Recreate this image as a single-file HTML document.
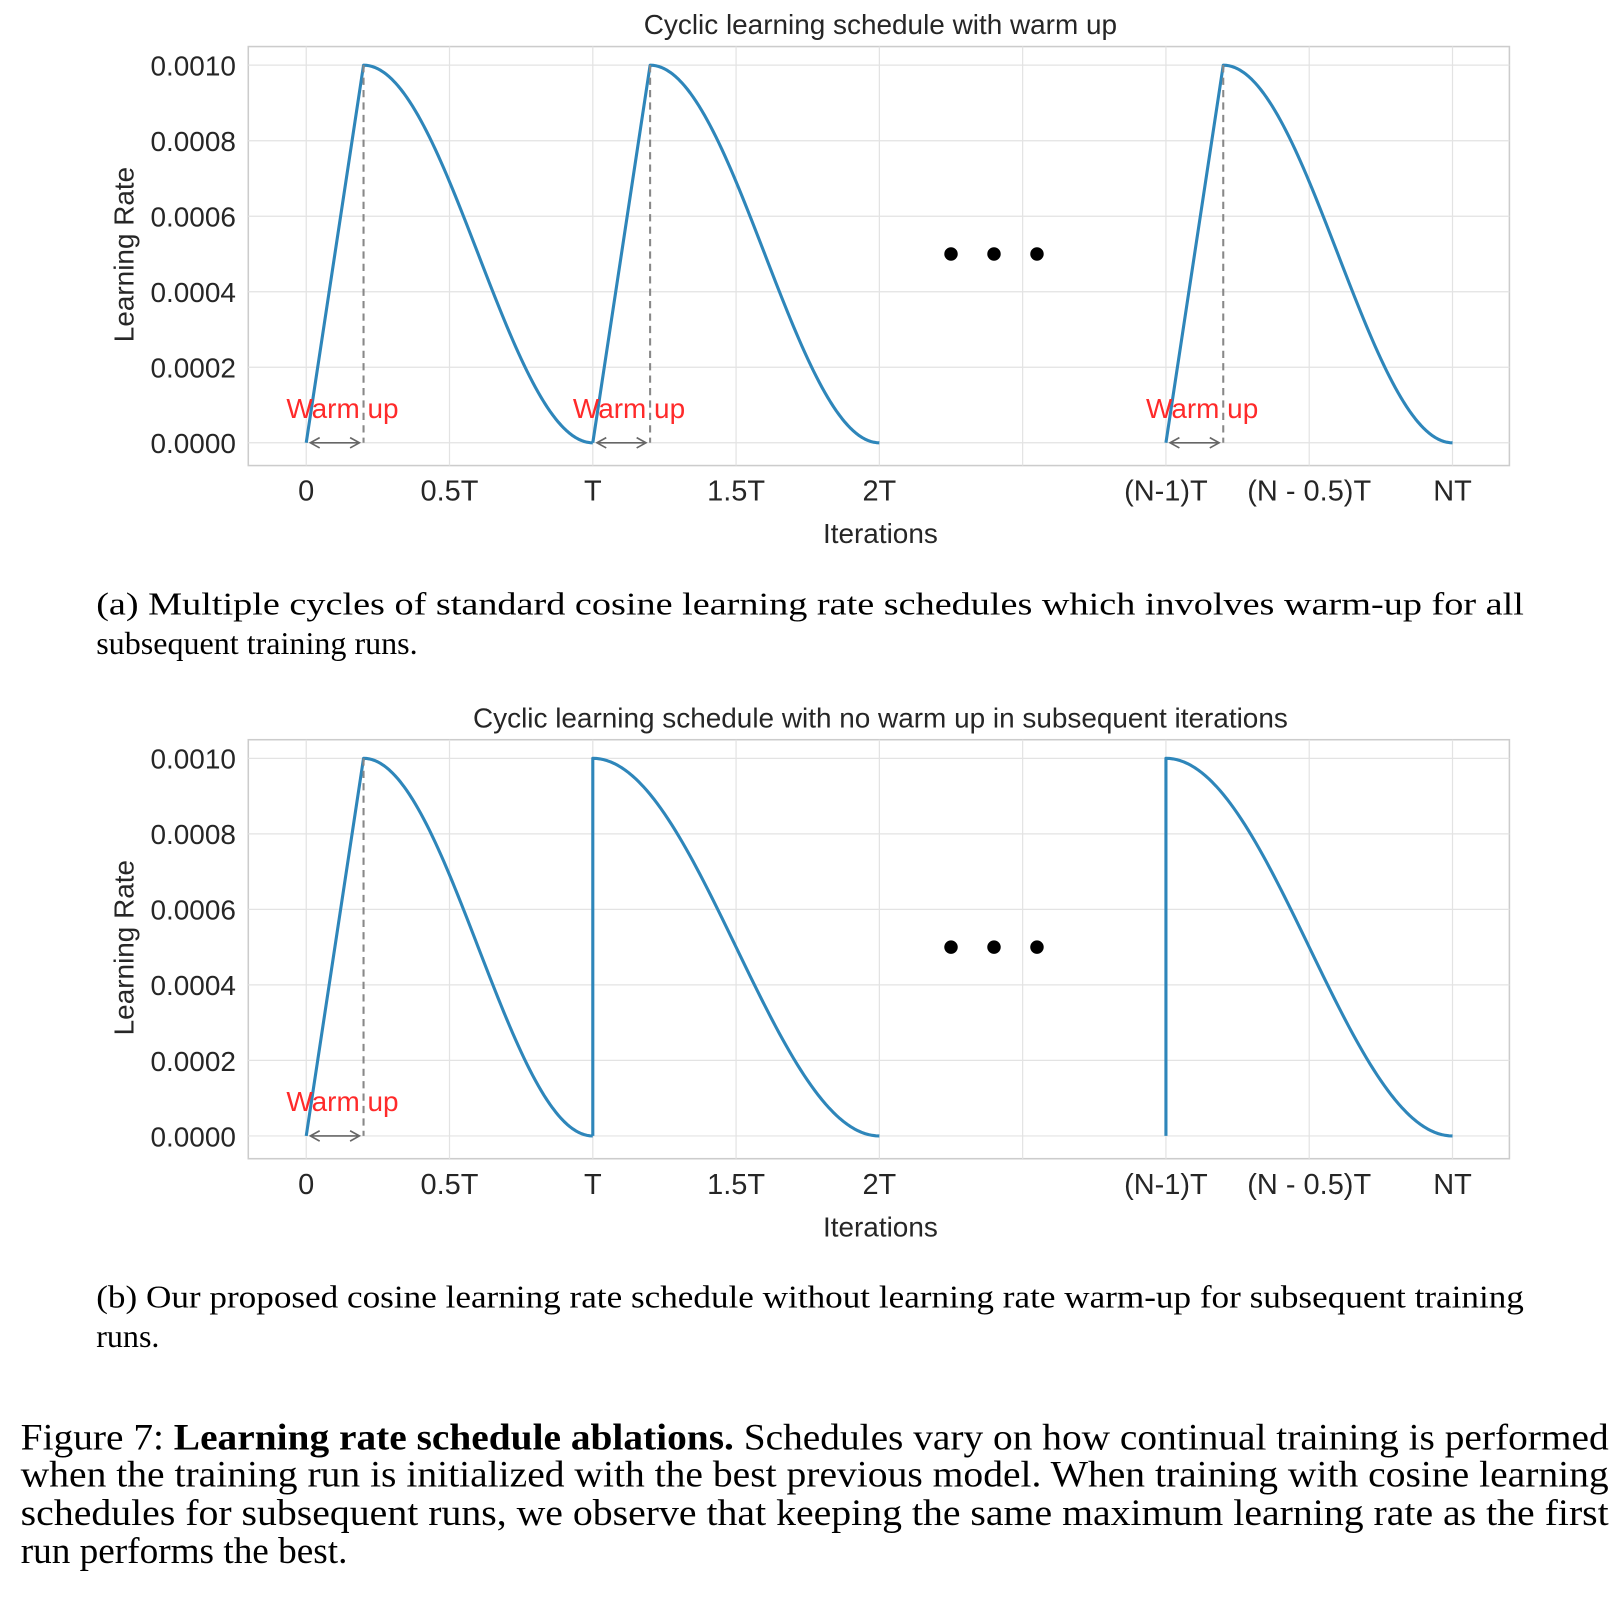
<!DOCTYPE html>
<html><head><meta charset="utf-8"><style>
html,body{margin:0;padding:0;background:#fff}
svg{display:block}
.tick{font-family:"Liberation Sans",sans-serif;fill:#262626}
.cap{font-family:"Liberation Serif",serif;fill:#000}
</style></head><body>
<svg id="fig" width="1617" height="1617" viewBox="0 0 1563 1563" xmlns="http://www.w3.org/2000/svg">
<text class="cap" x="93" y="594" font-size="31" textLength="1380" lengthAdjust="spacingAndGlyphs">(a) Multiple cycles of standard cosine learning rate schedules which involves warm-up for all</text>
<text class="cap" x="93" y="632" font-size="31">subsequent training runs.</text>
<text class="cap" x="93" y="1264" font-size="31" textLength="1380" lengthAdjust="spacingAndGlyphs">(b) Our proposed cosine learning rate schedule without learning rate warm-up for subsequent training</text>
<text class="cap" x="93" y="1302" font-size="31">runs.</text>
<g>
<text class="cap" x="20" y="1401" font-size="36" textLength="1535" lengthAdjust="spacingAndGlyphs">Figure 7: <tspan font-weight="bold">Learning rate schedule ablations.</tspan> Schedules vary on how continual training is performed</text>
<text class="cap" x="20" y="1437" font-size="36" textLength="1535" lengthAdjust="spacingAndGlyphs">when the training run is initialized with the best previous model. When training with cosine learning</text>
<text class="cap" x="20" y="1474" font-size="36" textLength="1535" lengthAdjust="spacingAndGlyphs">schedules for subsequent runs, we observe that keeping the same maximum learning rate as the first</text>
<text class="cap" x="20" y="1511" font-size="36">run performs the best.</text>
</g>
</svg>
<script>
const yTicks=[0,0.0002,0.0004,0.0006,0.0008,0.0010];
const yTickLabels=["0.0000","0.0002","0.0004","0.0006","0.0008","0.0010"];
const xGrid=[0,0.5,1,1.5,2,2.5,3,3.5,4];
const xTickPos=[0,0.5,1,1.5,2,3,3.5,4];
const xTickLabels=["0","0.5T","T","1.5T","2T","(N-1)T","(N - 0.5)T","NT"];
const cycleStarts=[0,1,3];
const maxLR=0.001;
const warmupFrac=0.2;
const warmTopFlags=[true,true,true];
const warmBottomFlags=[true,false,false];
const dotsX=[2.25,2.4,2.55];
const dotsY=0.0005;
const NS="http://www.w3.org/2000/svg";
const svg=document.getElementById('fig');
function mk(tag,attrs,parent){const e=document.createElementNS(NS,tag);for(const k in attrs)e.setAttribute(k,attrs[k]);(parent||svg).appendChild(e);return e;}
function drawChart(oy,title,warmFlags,nm){
  const g=mk('g',{});
  
  
  const L=240,R=1459,T=45+oy,B=450+oy;
  const X=t=>296+(t)*277;
  const Y=v=>428+oy-(v/0.0002)*73;
  const fr=mk('rect',{x:L,y:T,width:R-L,height:B-T,fill:'#fff',stroke:'#cccccc','stroke-width':1.5},g);
  
  
  yTicks.forEach((v,i)=>{
    const l=mk('line',{x1:L,x2:R,y1:Y(v),y2:Y(v),stroke:'#e3e3e3','stroke-width':1.2},g);
    
    
    const t=mk('text',{class:'tick',x:228,y:Y(v)+10,'font-size':27,'text-anchor':'end'},g);
    t.textContent=yTickLabels[i];
    
    
  });
  xGrid.forEach(v=>{
    const l=mk('line',{x1:X(v),x2:X(v),y1:T,y2:B,stroke:'#e3e3e3','stroke-width':1.2},g);
    
    
  });
  xTickPos.forEach((v,i)=>{
    const t=mk('text',{class:'tick',x:X(v),y:484+oy,'font-size':28,'text-anchor':'middle'},g);
    t.textContent=xTickLabels[i];
    
    
  });
  const tt=mk('text',{class:'tick',x:851,y:33+oy,'font-size':27,'text-anchor':'middle'},g);
  tt.textContent=title;
  
  
  const xl=mk('text',{class:'tick',x:851,y:525+oy,'font-size':27,'text-anchor':'middle'},g);
  xl.textContent='Iterations';
  
  
  const yl=mk('text',{class:'tick',x:0,y:0,'font-size':27,'text-anchor':'middle',transform:`translate(129,${246+oy}) rotate(-90)`},g);
  yl.textContent='Learning Rate';
  
  
  cycleStarts.forEach((s,ci)=>{
    const w=warmFlags[ci];
    let d='';
    if(w){d+=`M${X(s)},${Y(0)} L${X(s+warmupFrac)},${Y(maxLR)}`;}
    else{d+=`M${X(s)},${Y(0)} L${X(s)},${Y(maxLR)}`;}
    const st=w?s+warmupFrac:s, len=s+1-st;
    for(let k=1;k<=80;k++){const t=st+len*k/80;const v=maxLR*0.5*(1+Math.cos(Math.PI*(t-st)/len));d+=` L${X(t)},${Y(v)}`;}
    const p=mk('path',{d:d,fill:'none',stroke:'#2e86ba','stroke-width':3,'stroke-linejoin':'round'},g);
    
    
    if(w){
      const dl=mk('line',{x1:X(s+warmupFrac),x2:X(s+warmupFrac),y1:Y(maxLR),y2:Y(0),stroke:'#888','stroke-width':2,'stroke-dasharray':'7,5'},g);
      
      
      const a1=X(s)+4,a2=X(s+warmupFrac)-4,ay=Y(0);
      const ar=mk('path',{d:`M${a1},${ay} L${a2},${ay} M${a1+9},${ay-5} L${a1},${ay} L${a1+9},${ay+5} M${a2-9},${ay-5} L${a2},${ay} L${a2-9},${ay+5}`,fill:'none',stroke:'#666','stroke-width':1.6},g);
      
      
      const wt=mk('text',{class:'tick',x:X(s)+35,y:Y(0)-24,'font-size':27,'text-anchor':'middle',style:'fill:#ff2a2a'},g);
      wt.textContent='Warm up';
      
      
    }
  });
  dotsX.forEach(v=>{
    const c=mk('circle',{cx:X(v),cy:Y(dotsY),r:6.5,fill:'#000'},g);
    
    
  });
}
drawChart(0,'Cyclic learning schedule with warm up',warmTopFlags,'chart-with-warmup');
drawChart(670,'Cyclic learning schedule with no warm up in subsequent iterations',warmBottomFlags,'chart-no-warmup');
</script>
</body></html>
